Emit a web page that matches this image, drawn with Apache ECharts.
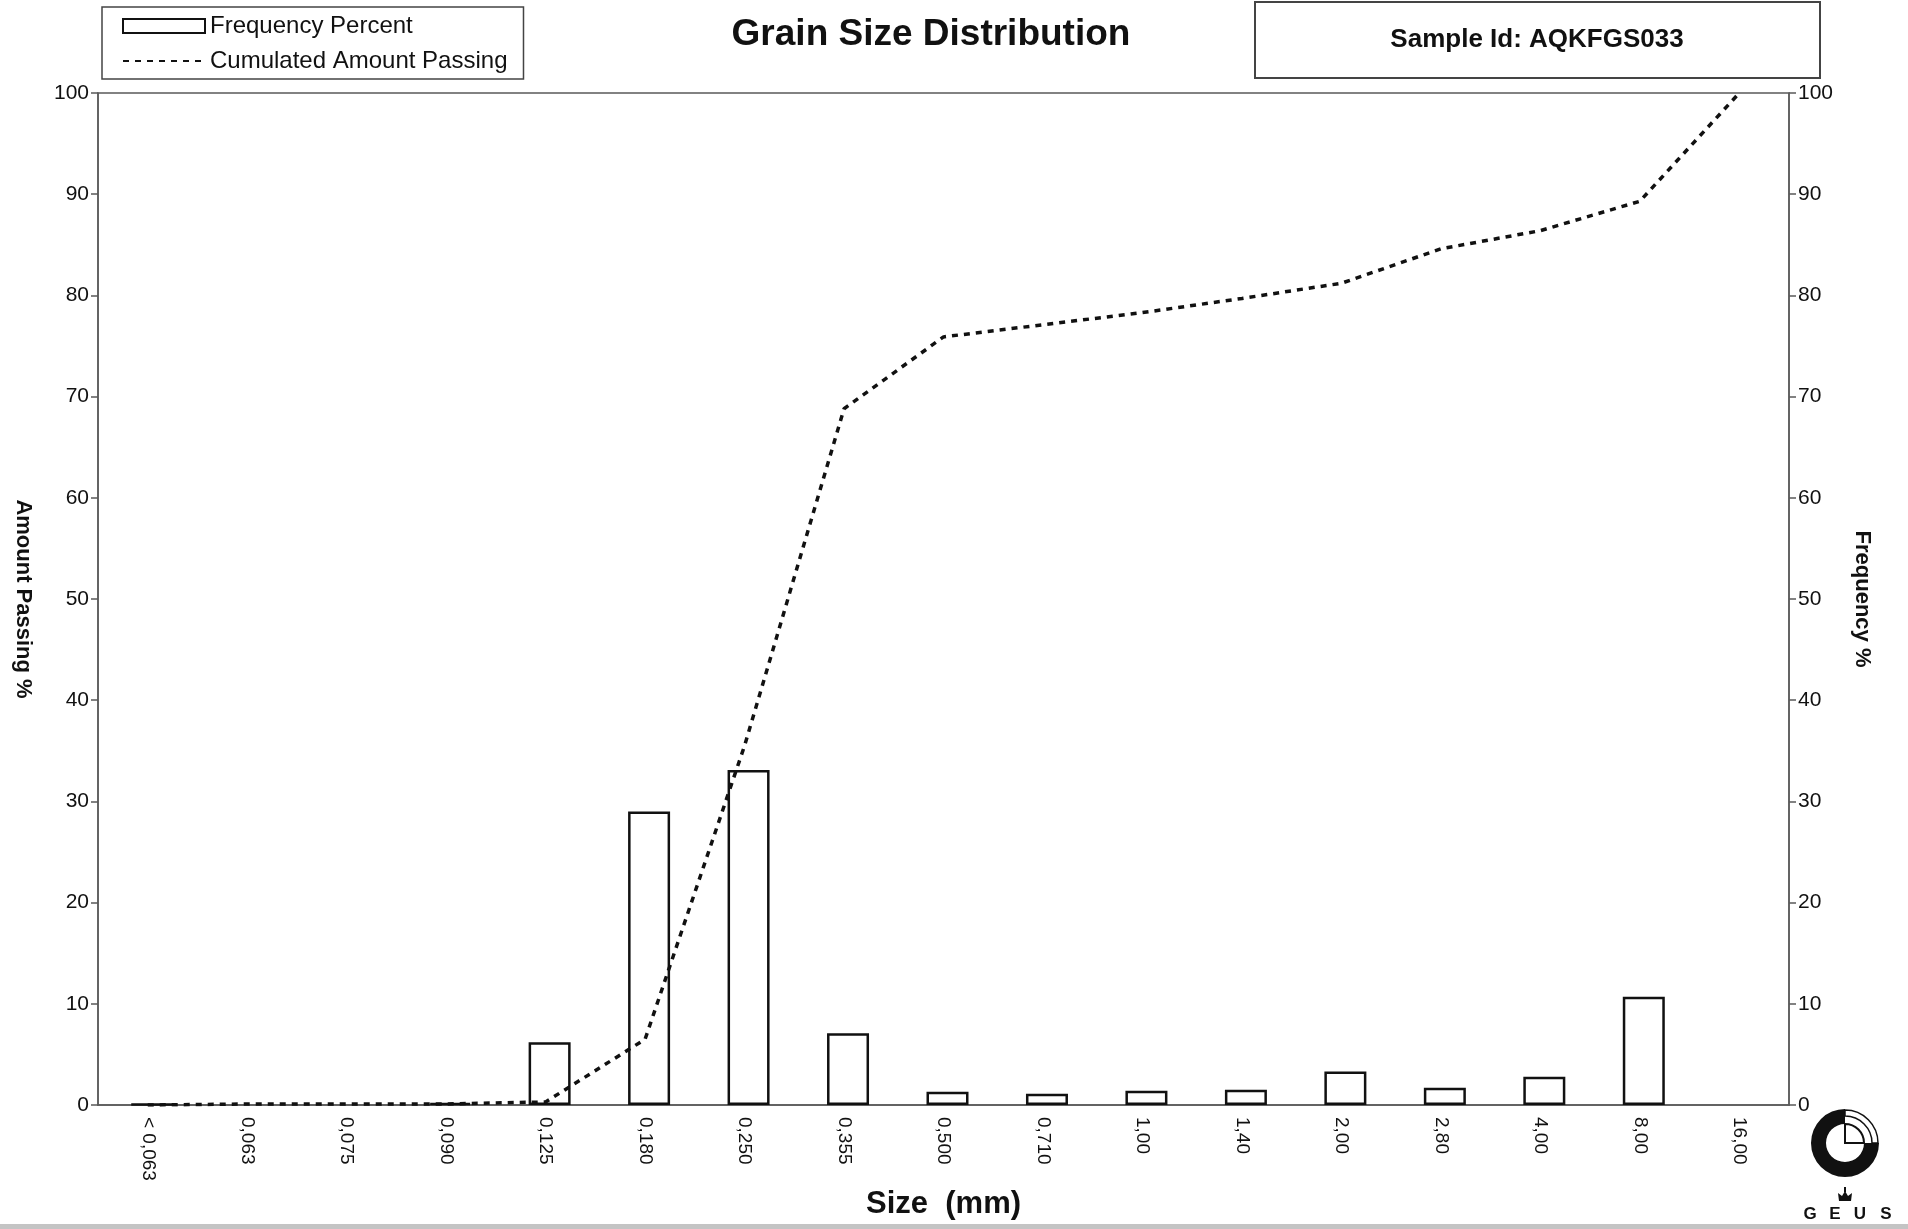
<!DOCTYPE html>
<html>
<head>
<meta charset="utf-8">
<title>Grain Size Distribution</title>
<script src="https://cdn.jsdelivr.net/npm/echarts@6/dist/echarts.min.js"></script>
<style>
  html, body { margin: 0; padding: 0; background: #fff; }
  #grainChart { width: 1908px; height: 1229px; }
</style>
</head>
<body>
<div id="grainChart"></div>
<script>
// sieve sizes (mm) on the x axis
var sizeLabels = ['< 0,063', '0,063', '0,075', '0,090', '0,125', '0,180', '0,250', '0,355',
    '0,500', '0,710', '1,00', '1,40', '2,00', '2,80', '4,00', '8,00', '16,00'];

// frequency percent per fraction (right axis), null = empty fraction
var frequencyPercent = [0.1, null, null, 0.2, 6.2, 29.0, 33.1, 7.1, 1.3, 1.1, 1.4, 1.5, 3.3, 1.7, 2.8, 10.7, null];

// cumulated amount passing (left axis)
var amountPassing = [0, 0.1, 0.1, 0.1, 0.3, 6.5, 35.5, 68.8, 75.9, 77.1, 78.3, 79.7, 81.2, 84.6, 86.4, 89.3, 100];

var yTicks = [0, 10, 20, 30, 40, 50, 60, 70, 80, 90, 100];

var sampleId = 'AQKFGS033';
var font = '"Liberation Sans", Arial, sans-serif';
var axisGray = '#5a5a5a';

var grainChart = echarts.init(document.getElementById('grainChart'));

function valueAxis(pos, name, gap) {
    return {
        type: 'value',
        position: pos,
        min: yTicks[0],
        max: yTicks[yTicks.length - 1],
        interval: yTicks[1] - yTicks[0],
        name: name,
        nameLocation: 'middle',
        nameRotate: -90,
        nameGap: gap,
        nameTextStyle: { fontFamily: font, fontWeight: 'bold', fontSize: 22, color: '#111' },
        axisLine: { show: true, lineStyle: { color: axisGray, width: 1.5 } },
        axisTick: { show: true, length: 7, lineStyle: { color: axisGray, width: 1.5 } },
        axisLabel: { fontFamily: font, fontSize: 21, color: '#111', margin: 9 },
        splitLine: { show: false }
    };
}

function letter(ch, x) {
    return {
        type: 'text',
        style: {
            text: ch, x: x, y: 1214,
            align: 'center', verticalAlign: 'middle',
            textAlign: 'center', textVerticalAlign: 'middle',
            font: 'bold 17px ' + font, fill: '#111'
        }
    };
}

var option = {
    backgroundColor: '#fff',
    animation: false,
    grid: {
        left: 98, right: 119, top: 93, bottom: 124,
        show: true, borderColor: axisGray, borderWidth: 1.5
    },
    legend: {
        orient: 'vertical',
        left: 102, top: 7,
        itemWidth: 82, itemHeight: 14, itemGap: 11,
        padding: [7, 16, 6, 20],
        borderColor: '#444', borderWidth: 1.5,
        textStyle: { fontFamily: font, fontSize: 24, color: '#111' },
        data: [
            { name: 'Frequency Percent', icon: 'rect' },
            { name: 'Cumulated Amount Passing', itemStyle: { opacity: 0 } }
        ]
    },
    xAxis: {
        type: 'category',
        data: sizeLabels,
        boundaryGap: true,
        name: 'Size  (mm)',
        nameLocation: 'middle',
        nameGap: 72,
        nameTextStyle: { fontFamily: font, fontWeight: 'bold', fontSize: 31, color: '#111' },
        axisLine: { lineStyle: { color: axisGray, width: 1.5 } },
        axisTick: { length: 6, lineStyle: { color: axisGray, width: 1.5 } },
        axisLabel: { rotate: -90, interval: 0, fontFamily: font, fontSize: 19, color: '#111', margin: 12 }
    },
    yAxis: [
        valueAxis('left', 'Amount Passing %', 64),
        valueAxis('right', 'Frequency %', 62)
    ],
    series: [
        {
            // empty spacer so the bars sit a little right of the band centre
            name: 'spacer',
            type: 'bar',
            yAxisIndex: 1,
            barWidth: 4,
            barGap: '100%',
            data: sizeLabels.map(function () { return null; })
        },
        {
            name: 'Frequency Percent',
            type: 'bar',
            yAxisIndex: 1,
            barWidth: 42,
            data: frequencyPercent,
            itemStyle: { color: '#fff', borderColor: '#111', borderWidth: 2.5 }
        },
        {
            name: 'Cumulated Amount Passing',
            type: 'line',
            yAxisIndex: 0,
            z: 3,
            symbol: 'none',
            showSymbol: false,
            data: amountPassing,
            itemStyle: { color: '#111', opacity: 0 },
            lineStyle: { color: '#111', width: 3.5, type: [6, 6] }
        }
    ],
    graphic: [
        {
            type: 'text',
            style: {
                text: 'Grain Size Distribution', x: 931, y: 35,
                align: 'center', verticalAlign: 'middle',
                textAlign: 'center', textVerticalAlign: 'middle',
                font: 'bold 37px ' + font, fill: '#111'
            }
        },
        {
            type: 'rect',
            shape: { x: 1255, y: 2, width: 565, height: 76 },
            style: { fill: '#fff', stroke: '#444', lineWidth: 2 }
        },
        {
            type: 'text',
            style: {
                text: 'Sample Id: ' + sampleId, x: 1537, y: 40,
                align: 'center', verticalAlign: 'middle',
                textAlign: 'center', textVerticalAlign: 'middle',
                font: 'bold 26px ' + font, fill: '#111'
            }
        },
        // GEUS logo
        {
            type: 'group',
            x: 1845, y: 1143,
            children: [
                { type: 'sector', shape: { cx: 0, cy: 0, r: 34, r0: 19, startAngle: 0, endAngle: Math.PI * 1.5 },
                  style: { fill: '#111' } },
                { type: 'sector', shape: { cx: 0, cy: 0, r: 33, r0: 27, startAngle: Math.PI * 1.5, endAngle: Math.PI * 2 },
                  style: { fill: '#fff', stroke: '#111', lineWidth: 1.5 } },
                { type: 'sector', shape: { cx: 0, cy: 0, r: 19, r0: 0, startAngle: Math.PI * 1.5, endAngle: Math.PI * 2 },
                  style: { fill: '#fff', stroke: '#111', lineWidth: 2 } },
                { type: 'polygon', shape: { points: [[-6, 58], [6, 58], [7, 50], [3, 53], [0, 48], [-3, 53], [-7, 50]] },
                  style: { fill: '#111' } },
                { type: 'rect', shape: { x: -1, y: 44, width: 2, height: 5 }, style: { fill: '#111' } }
            ]
        },
        letter('G', 1810),
        letter('E', 1835),
        letter('U', 1860),
        letter('S', 1886),
        // scan frame edge at the bottom
        { type: 'rect', shape: { x: 0, y: 1224, width: 1908, height: 5 }, style: { fill: '#c4c4c4' } }
    ]
};

grainChart.setOption(option);
</script>
</body>
</html>
